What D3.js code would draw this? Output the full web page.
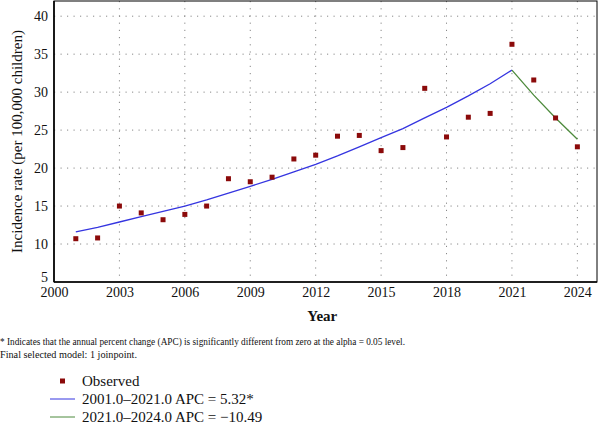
<!DOCTYPE html>
<html>
<head>
<meta charset="utf-8">
<script src="https://cdn.jsdelivr.net/npm/d3@7"></script>
<style>
  body { margin: 0; background: #fff; }
  svg text { font-family: "Liberation Serif", "Times New Roman", serif !important; fill: #111; }
</style>
</head>
<body>
<div id="chart-area"></div>
<script>
// observed incidence rates
var years = [2001, 2002, 2003, 2004, 2005, 2006, 2007, 2008, 2009, 2010, 2011, 2012,
             2013, 2014, 2015, 2016, 2017, 2018, 2019, 2020, 2021, 2022, 2023, 2024];
var observed = [10.7, 10.8, 15.0, 14.1, 13.2, 13.9, 15.0, 18.6, 18.2, 18.8, 21.2, 21.7,
                24.2, 24.3, 22.3, 22.7, 30.5, 24.1, 26.7, 27.2, 36.3, 31.6, 26.6, 22.8];

// joinpoint segments (modelled values)
var seg1Years = [2001, 2002, 2003, 2004, 2005, 2006, 2007, 2008, 2009, 2010, 2011,
                 2012, 2013, 2014, 2015, 2016, 2017, 2018, 2019, 2020, 2021];
var seg1Fit = [11.6, 12.2, 12.9, 13.6, 14.3, 15.0, 15.8, 16.7, 17.6, 18.5, 19.5,
               20.5, 21.6, 22.8, 24.0, 25.2, 26.6, 28.0, 29.5, 31.1, 32.9];
var seg2Years = [2021, 2022, 2023, 2024];
var seg2Fit = [32.9, 29.6, 26.6, 23.8];

var xTicks = [2000, 2003, 2006, 2009, 2012, 2015, 2018, 2021, 2024];
var yTicks = [5, 10, 15, 20, 25, 30, 35, 40];

var legendLabels = ["Observed", "2001.0\u20132021.0 APC = 5.32*", "2021.0\u20132024.0 APC = \u221210.49"];
var footnotes = ["* Indicates that the annual percent change (APC) is significantly different from zero at the alpha = 0.05 level.",
                 "Final selected model: 1 joinpoint."];
var footWidths = [405, 137];

var W = 600, H = 426;
var margin = {left: 54, right: 3, top: 1, bottom: 144};
var width = W - margin.left - margin.right;
var height = H - margin.top - margin.bottom;

var svg = d3.select("#chart-area").append("svg")
    .attr("width", W)
    .attr("height", H);

var g = svg.append("g")
    .attr("transform", "translate(" + margin.left + "," + margin.top + ")");

var x = d3.scaleLinear().domain([2000, 2024.9]).range([0, width]);
var y = d3.scaleLinear().domain([5, 42]).range([height, 0]);

// dotted grid
g.append("g").selectAll("line.hg")
    .data(yTicks.slice(1))
    .enter().append("line")
        .attr("x1", 0).attr("x2", width)
        .attr("y1", function(d){ return y(d); })
        .attr("y2", function(d){ return y(d); })
        .attr("stroke", "#888")
        .attr("stroke-width", 1)
        .attr("stroke-dasharray", "1.2,5.3");

g.append("g").selectAll("line.vg")
    .data(xTicks.slice(1))
    .enter().append("line")
        .attr("x1", function(d){ return x(d); })
        .attr("x2", function(d){ return x(d); })
        .attr("y1", 0).attr("y2", height)
        .attr("stroke", "#888")
        .attr("stroke-width", 1)
        .attr("stroke-dasharray", "1.2,6");

// axes (labels only, frame drawn separately)
var xAxisCall = d3.axisBottom(x).tickValues(xTicks).tickSize(0).tickPadding(5).tickFormat(d3.format("d"));
var xAxis = g.append("g")
    .attr("transform", "translate(0," + height + ")")
    .call(xAxisCall)
    .attr("font-family", "Liberation Serif");
xAxis.select(".domain").remove();
xAxis.selectAll("text").attr("font-size", "14px");

var yAxisCall = d3.axisLeft(y).tickValues(yTicks).tickSize(0).tickPadding(6);
var yAxis = g.append("g").call(yAxisCall)
    .attr("font-family", "Liberation Serif");
yAxis.select(".domain").remove();
yAxis.selectAll("text").attr("font-size", "14px")
    .attr("dy", function(d){ return d === 5 ? "-0.05em" : "0.32em"; });

// frame
g.append("rect")
    .attr("x", 0).attr("y", 0)
    .attr("width", width).attr("height", height)
    .attr("fill", "none")
    .attr("stroke", "#000")
    .attr("stroke-width", 1);
g.append("line").attr("x1", 0).attr("x2", 0).attr("y1", 0).attr("y2", height)
    .attr("stroke", "#000").attr("stroke-width", 1.6);
g.append("line").attr("x1", 0).attr("x2", width).attr("y1", height).attr("y2", height)
    .attr("stroke", "#000").attr("stroke-width", 1.6);

// fitted segments
var line = d3.line()
    .x(function(d){ return x(d[0]); })
    .y(function(d){ return y(d[1]); });

g.append("path")
    .datum(d3.zip(seg1Years, seg1Fit))
    .attr("d", line)
    .attr("fill", "none")
    .attr("stroke", "#3535e0")
    .attr("stroke-width", 1.3);

g.append("path")
    .datum(d3.zip(seg2Years, seg2Fit))
    .attr("d", line)
    .attr("fill", "none")
    .attr("stroke", "#4d8a3c")
    .attr("stroke-width", 1.3);

// observed points
var s = 5;
g.selectAll("rect.obs")
    .data(d3.zip(years, observed))
    .enter().append("rect")
        .attr("class", "obs")
        .attr("x", function(d){ return x(d[0]) - s / 2; })
        .attr("y", function(d){ return y(d[1]) - s / 2; })
        .attr("width", s).attr("height", s)
        .attr("fill", "#8b0a0a");

// axis titles
svg.append("text")
    .attr("x", margin.left + x(2012.3))
    .attr("y", 321)
    .attr("text-anchor", "middle")
    .attr("font-size", "15px")
    .attr("font-weight", "bold")
    .text("Year");

svg.append("text")
    .attr("transform", "translate(22," + (margin.top + height / 2) + ") rotate(-90)")
    .attr("text-anchor", "middle")
    .attr("font-size", "15px")
    .text("Incidence rate (per 100,000 children)");

// footnotes
svg.selectAll("text.foot")
    .data(footnotes)
    .enter().append("text")
        .attr("class", "foot")
        .attr("x", 0)
        .attr("y", function(d, i){ return 345 + i * 13; })
        .attr("font-size", "10px")
        .attr("textLength", function(d, i){ return footWidths[i]; })
        .attr("lengthAdjust", "spacingAndGlyphs")
        .text(function(d){ return d; });

// legend
var leg = svg.append("g").attr("transform", "translate(50,381)");
leg.append("rect").attr("x", 10).attr("y", -2.5).attr("width", 5).attr("height", 5).attr("fill", "#8b0a0a");
leg.append("line").attr("x1", 0).attr("x2", 25).attr("y1", 18).attr("y2", 18)
    .attr("stroke", "#3535e0").attr("stroke-width", 1);
leg.append("line").attr("x1", 0).attr("x2", 25).attr("y1", 36).attr("y2", 36)
    .attr("stroke", "#4d8a3c").attr("stroke-width", 1);
leg.selectAll("text.lg")
    .data(legendLabels)
    .enter().append("text")
        .attr("class", "lg")
        .attr("x", 32)
        .attr("y", function(d, i){ return i * 18; })
        .attr("dy", "0.35em")
        .attr("font-size", "15px")
        .text(function(d){ return d; });
</script>
</body>
</html>
